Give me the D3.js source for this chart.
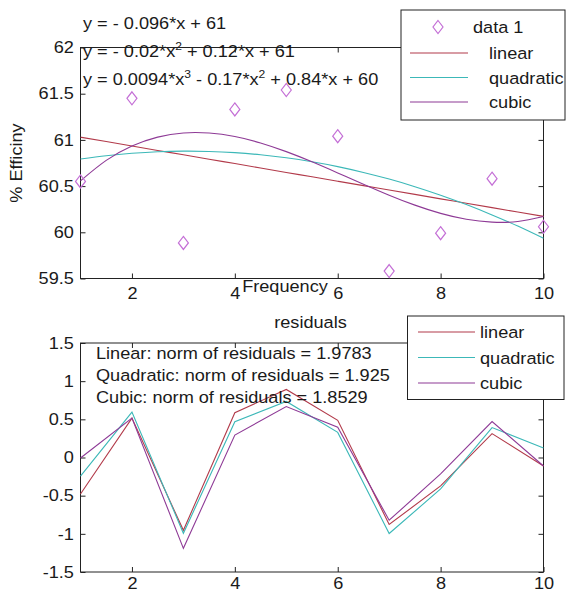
<!DOCTYPE html>
<html>
<head>
<meta charset="utf-8">
<script src="https://cdn.jsdelivr.net/npm/d3@7"></script>
<style>
  html, body { margin: 0; padding: 0; background: #fff; }
  svg { display: block; }
  text { font-family: "Liberation Sans", Arial, sans-serif; fill: #1a1a1a; }
</style>
</head>
<body>
<svg id="chart" width="568" height="596"></svg>
<script>
// ---------------- data ----------------
const xValues = [1, 2, 3, 4, 5, 6, 7, 8, 9, 10];
const dataY = [60.55, 61.45, 59.885, 61.33, 61.54, 61.04, 59.58, 59.99, 60.58, 60.06];

const fitX = [1, 1.5, 2, 2.5, 3, 3.5, 4, 4.5, 5, 5.5, 6, 6.5, 7, 7.5, 8, 8.5, 9, 9.5, 10];
const linearFit = [61.029, 60.982, 60.934, 60.886, 60.839, 60.791, 60.744, 60.696, 60.648, 60.601,
                   60.553, 60.505, 60.458, 60.410, 60.362, 60.315, 60.267, 60.219, 60.172];
const quadraticFit = [60.793, 60.829, 60.855, 60.872, 60.878, 60.875, 60.862, 60.839, 60.806, 60.763,
                      60.711, 60.648, 60.576, 60.494, 60.402, 60.300, 60.188, 60.067, 59.935];
const cubicFit = [60.557, 60.778, 60.934, 61.030, 61.075, 61.074, 61.036, 60.967, 60.873, 60.763,
                  60.643, 60.521, 60.402, 60.294, 60.205, 60.141, 60.110, 60.117, 60.171];

const residLinear = [-0.479, 0.516, -0.954, 0.587, 0.892, 0.487, -0.878, -0.372, 0.313, -0.112];
const residQuadratic = [-0.243, 0.595, -0.993, 0.468, 0.734, 0.329, -0.996, -0.412, 0.392, 0.125];
const residCubic = [-0.007, 0.516, -1.190, 0.294, 0.667, 0.397, -0.822, -0.215, 0.471, -0.111];

const xTicks = [2, 4, 6, 8, 10];
const yTicksTop = [59.5, 60, 60.5, 61, 61.5, 62];
const yTicksBottom = [-1.5, -1, -0.5, 0, 0.5, 1, 1.5];

const seriesNames = ["linear", "quadratic", "cubic"];
const dataName = "data 1";
const xLabel = "Frequency";
const yLabel = "% Efficiny";
const bottomTitle = "residuals";
// equations: [text, superscript] segments
const equations = [
  [["y = - 0.096*x + 61", null]],
  [["y = - 0.02*x", "2"], [" + 0.12*x + 61", null]],
  [["y = 0.0094*x", "3"], [" - 0.17*x", "2"], [" + 0.84*x + 60", null]]
];
const normLines = [
  "Linear: norm of residuals = 1.9783",
  "Quadratic: norm of residuals = 1.925",
  "Cubic: norm of residuals = 1.8529"
];

// ---------------- style ----------------
const colors = { linear: "#b23a4a", quadratic: "#3cb8b8", cubic: "#8e3a96", data: "#c46fd6" };
const FS = 16.5, SX = 1.1;

const svg = d3.select("#chart");
svg.append("rect").attr("width", 568).attr("height", 596).attr("fill", "#fff");

function txt(sel, x, y, str, anchor, extra) {
  return sel.append("text")
    .attr("transform", `translate(${x},${y}) ${extra || ""} scale(${SX},1)`)
    .attr("text-anchor", anchor || "start")
    .attr("font-size", FS)
    .text(str);
}

// ---------------- scales ----------------
const xScale = d3.scaleLinear().domain([1, 10]).range([80.5, 543.5]);
const yTop = d3.scaleLinear().domain([59.5, 62]).range([278.5, 47.5]);
const yBot = d3.scaleLinear().domain([-1.5, 1.5]).range([572, 343]);

function drawAxes(yScale, yTicks, fmt, xLabelPad) {
  const [y0, y1] = yScale.range();
  const [x0, x1] = xScale.range();
  const g = svg.append("g");
  g.append("g").attr("transform", `translate(0,${y0})`)
    .call(d3.axisBottom(xScale).tickValues(xTicks).tickSizeInner(-5).tickSizeOuter(0).tickPadding(xLabelPad).tickFormat(d3.format("d")));
  g.append("g").attr("transform", `translate(0,${y1})`)
    .call(d3.axisTop(xScale).tickValues(xTicks).tickSizeInner(-5).tickSizeOuter(0).tickFormat(""));
  g.append("g").attr("transform", `translate(${x0},0)`)
    .call(d3.axisLeft(yScale).tickValues(yTicks).tickSizeInner(-5).tickSizeOuter(0).tickPadding(6).tickFormat(fmt));
  g.append("g").attr("transform", `translate(${x1},0)`)
    .call(d3.axisRight(yScale).tickValues(yTicks).tickSizeInner(-5).tickSizeOuter(0).tickFormat(""));
  g.selectAll(".domain").remove();
  g.selectAll(".tick line").attr("stroke", "#222");
  g.selectAll(".tick text").filter(function () { return this.textContent === ""; }).remove();
  g.selectAll(".tick text").attr("font-size", FS).attr("fill", "#1a1a1a")
    .attr("font-family", "'Liberation Sans', Arial, sans-serif")
    .attr("transform", `scale(${SX},1)`);
  g.append("rect").attr("x", x0).attr("y", y1).attr("width", x1 - x0).attr("height", y0 - y1)
    .attr("fill", "none").attr("stroke", "#222").attr("stroke-width", 1);
  return g;
}

// ---------------- top plot ----------------
drawAxes(yTop, yTicksTop, d => String(d), 9);

const fitLine = d3.line().x((d, i) => xScale(fitX[i])).y(d => yTop(d)).curve(d3.curveNatural);
[linearFit, quadraticFit, cubicFit].forEach((s, k) => {
  svg.append("path").attr("d", fitLine(s)).attr("fill", "none")
    .attr("stroke", colors[seriesNames[k]]).attr("stroke-width", 1.1);
});
const diamond = "M0,-6.5L5,0L0,6.5L-5,0Z";
svg.append("g").selectAll("path").data(dataY).join("path")
  .attr("transform", (d, i) => `translate(${xScale(xValues[i])},${yTop(d)})`)
  .attr("d", diamond).attr("fill", "none").attr("stroke", colors.data).attr("stroke-width", 1.2);

// equations
const eqBase = [29, 57, 85];
equations.forEach((segs, i) => {
  const t = svg.append("text")
    .attr("transform", `translate(83,${eqBase[i]}) scale(${SX},1)`)
    .attr("font-size", FS);
  let pendingDy = 0;
  segs.forEach(([s, sup]) => {
    const ts = t.append("tspan").text(s);
    if (pendingDy) { ts.attr("dy", pendingDy); pendingDy = 0; }
    if (sup) {
      t.append("tspan").attr("font-size", 11).attr("dy", -7).text(sup);
      pendingDy = 7;
    }
  });
});

// axis labels
txt(svg, 285, 292, xLabel, "middle");
txt(svg, 22, 163, yLabel, "middle", "rotate(-90)");

// top legend
const lt = svg.append("g");
lt.append("rect").attr("x", 401).attr("y", 10).attr("width", 164).attr("height", 110)
  .attr("fill", "#fff").attr("stroke", "#222");
lt.append("path").attr("transform", "translate(438,27)").attr("d", diamond)
  .attr("fill", "none").attr("stroke", colors.data).attr("stroke-width", 1.2);
txt(lt, 473, 33, dataName, "start");
const legY = [53, 77.5, 102];
seriesNames.forEach((n, i) => {
  lt.append("line").attr("x1", 410).attr("x2", 468).attr("y1", legY[i]).attr("y2", legY[i])
    .attr("stroke", colors[n]).attr("stroke-width", 1.1);
  txt(lt, 489, legY[i] + 6, n, "start");
});

// ---------------- bottom plot ----------------
drawAxes(yBot, yTicksBottom, d => String(d), 5);
const resLine = d3.line().x((d, i) => xScale(xValues[i])).y(d => yBot(d));
[residLinear, residQuadratic, residCubic].forEach((s, k) => {
  svg.append("path").attr("d", resLine(s)).attr("fill", "none")
    .attr("stroke", colors[seriesNames[k]]).attr("stroke-width", 1.1);
});

txt(svg, 310.5, 327.5, bottomTitle, "middle");
const normBase = [359, 381, 403];
normLines.forEach((s, i) => txt(svg, 96, normBase[i], s, "start"));

const lb = svg.append("g");
lb.append("rect").attr("x", 407.5).attr("y", 316).attr("width", 156.5).attr("height", 83.5)
  .attr("fill", "#fff").attr("stroke", "#222");
const legY2 = [332, 357.5, 383];
seriesNames.forEach((n, i) => {
  lb.append("line").attr("x1", 418).attr("x2", 475).attr("y1", legY2[i]).attr("y2", legY2[i])
    .attr("stroke", colors[n]).attr("stroke-width", 1.1);
  txt(lb, 480, legY2[i] + 6, n, "start");
});
</script>
</body>
</html>
